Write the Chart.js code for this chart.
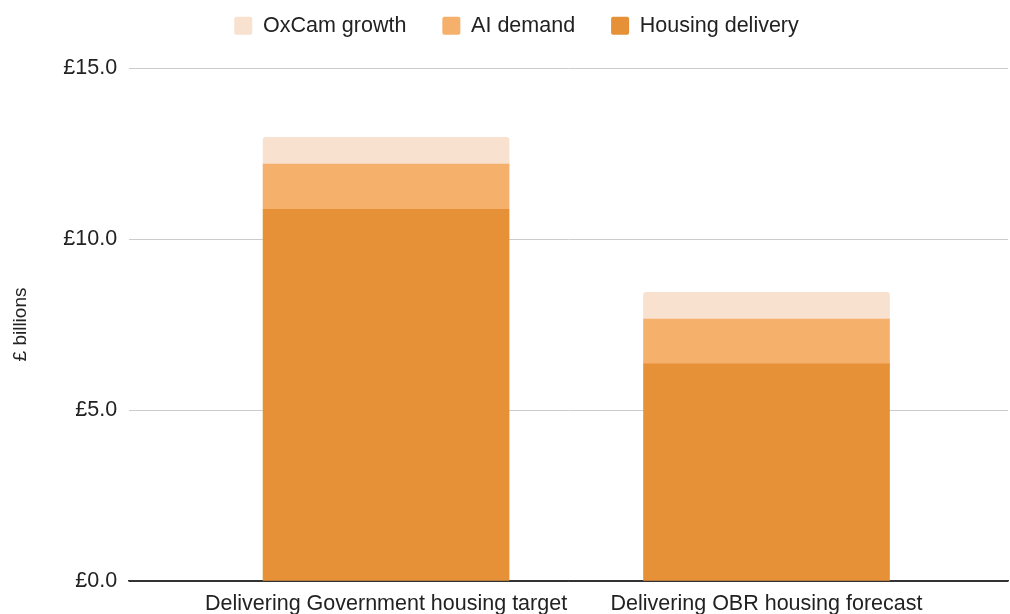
<!DOCTYPE html>
<html><head><meta charset="utf-8">
<script src="https://cdn.jsdelivr.net/npm/chart.js@4.4.1/dist/chart.umd.min.js"></script>
<style>html,body{margin:0;padding:0;background:#fff}#wrap{width:1010px;height:614px;position:relative}</style>
</head><body><div id="wrap"><canvas id="c"></canvas></div>
<script>
const categories = ['Delivering Government housing target', 'Delivering OBR housing forecast'];
const seriesNames = ['Housing delivery', 'AI demand', 'OxCam growth'];
const housingDelivery = [10.87, 6.35];
const aiDemand = [1.32, 1.31];
const oxcamGrowth = [0.78, 0.78];
const yTickValues = [0, 5, 10, 15];

const FONT = "'Liberation Sans', Arial, sans-serif";
const toPoints = arr => arr.map((v, i) => ({ x: i, y: v }));

const legendGap = {
  id: 'legendGap',
  beforeInit(chart) {
    const fit = chart.legend.fit;
    chart.legend.fit = function () { fit.call(this); this.height += 21.5; };
  },
  afterLayout(chart) {
    chart.legend.left += 12;
    chart.legend.right += 12;
  }
};

new Chart(document.getElementById('c'), {
  type: 'bar',
  data: {
    datasets: [
      { label: seriesNames[0], data: toPoints(housingDelivery), backgroundColor: '#E69138', borderWidth: 0 },
      { label: seriesNames[1], data: toPoints(aiDemand), backgroundColor: '#F5B06B', borderWidth: 0 },
      { label: seriesNames[2], data: toPoints(oxcamGrowth), backgroundColor: '#F9E1CF', borderWidth: 0,
        borderRadius: { topLeft: 3, topRight: 3, bottomLeft: 0, bottomRight: 0 }, borderSkipped: false }
    ]
  },
  options: {
    responsive: true,
    maintainAspectRatio: false,
    animation: false,
    datasets: { bar: { barThickness: 246 } },
    layout: { padding: { top: -21, right: 2, left: 1, bottom: -12.8 } },
    plugins: {
      tooltip: { enabled: false },
      legend: {
        position: 'top',
        reverse: true,
        labels: {
          boxWidth: 18, boxHeight: 18, padding: 36,
          useBorderRadius: true, borderRadius: 2,
          color: '#222', font: { family: FONT, size: 21.5 }
        }
      }
    },
    scales: {
      x: {
        type: 'linear',
        offset: false,
        stacked: true,
        min: -0.6754,
        max: 1.6347,
        z: 1,
        grid: { display: false, drawTicks: false },
        border: { display: true, color: '#333', width: 1.5 },
        afterBuildTicks: axis => { axis.ticks = categories.map((_, i) => ({ value: i })); },
        ticks: {
          autoSkip: false, maxRotation: 0, padding: 10,
          color: '#222', font: { family: FONT, size: 21.5 },
          callback: v => categories[v] ?? ''
        }
      },
      y: {
        stacked: true,
        min: 0,
        max: 15,
        afterBuildTicks: axis => { axis.ticks = yTickValues.map(v => ({ value: v })); },
        grid: {
          drawTicks: false,
          color: ctx => ctx.tick && ctx.tick.value === 0 ? '#333' : '#CCCCCC',
          lineWidth: 1
        },
        border: { display: false },
        ticks: {
          padding: 12, color: '#222', font: { family: FONT, size: 21.5 },
          callback: v => '£' + Number(v).toFixed(1)
        },
        title: {
          display: true, text: '£ billions', color: '#222',
          font: { family: FONT, size: 19 }, padding: { top: 8, bottom: 19.5 }
        }
      }
    }
  },
  plugins: [legendGap]
});
</script>
</body></html>
